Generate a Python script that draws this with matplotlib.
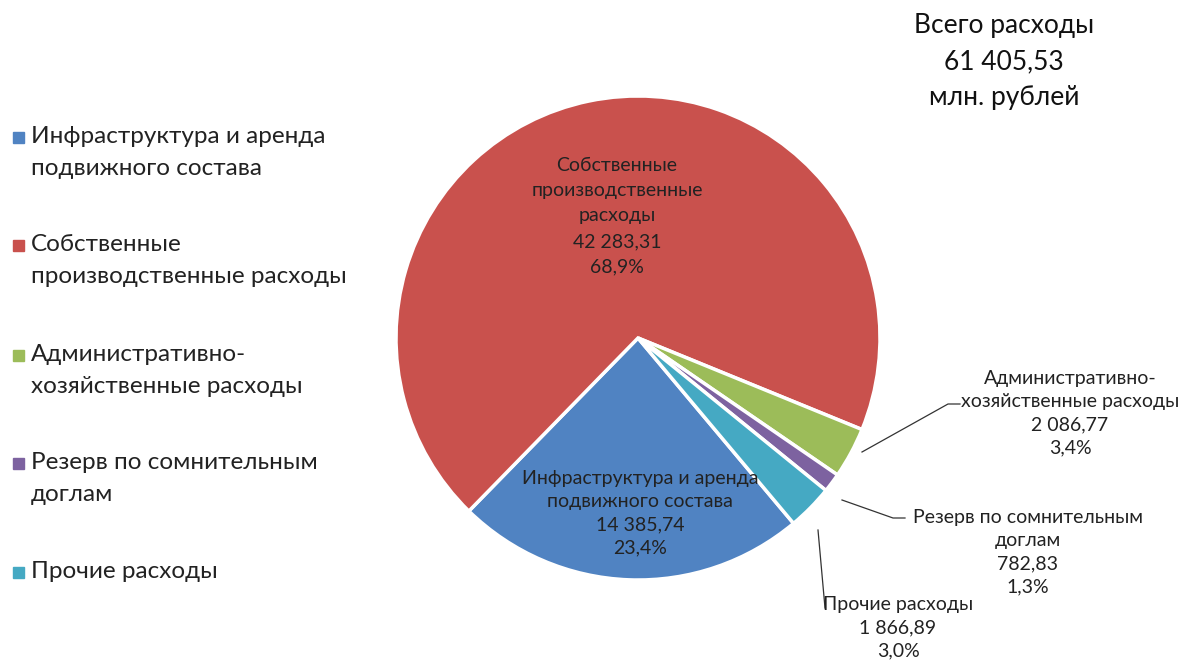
import matplotlib.pyplot as plt
from matplotlib.patches import Rectangle

plt.rcParams['font.family'] = ['Lato', 'Open Sans', 'DejaVu Sans']

# data
categories = ['Инфраструктура и аренда\nподвижного состава',
              'Собственные\nпроизводственные расходы',
              'Административно-\nхозяйственные расходы',
              'Резерв по сомнительным\nдоглам',
              'Прочие расходы']
slice_names = ['Инфраструктура и аренда\nподвижного состава',
               'Собственные\nпроизводственные\nрасходы',
               'Административно-\nхозяйственные расходы',
               'Резерв по сомнительным\nдоглам',
               'Прочие расходы']
values = [14385.74, 42283.31, 2086.77, 782.83, 1866.89]
value_text = ['14 385,74', '42 283,31', '2 086,77', '782,83', '1 866,89']
pct_text = ['23,4%', '68,9%', '3,4%', '1,3%', '3,0%']
colors = ['#5083C2', '#C9514D', '#9CBC59', '#7D62A0', '#45A9C3']
total_text = 'Всего расходы\n61 405,53\nмлн. рублей'

W, H = 1184, 661
fig = plt.figure(figsize=(W / 100, H / 100), dpi=100)
ax = fig.add_axes([0, 0, 1, 1])
ax.set_xlim(0, W)
ax.set_ylim(0, H)
ax.set_aspect('equal')
ax.axis('off')

# pie drawn in pixel-like data units
cx, cy, r = 638, H - 338, 242
wedges, _ = ax.pie(values, colors=colors, startangle=-50, counterclock=False,
                   center=(cx, cy), radius=r,
                   wedgeprops=dict(edgecolor='white', linewidth=2.5))
ax.set_xlim(0, W)
ax.set_ylim(0, H)

# labels inside
lab_pos = [(640, H - 513), (617, H - 216)]
for i in range(2):
    ax.text(lab_pos[i][0], lab_pos[i][1],
            slice_names[i] + '\n' + value_text[i] + '\n' + pct_text[i],
            ha='center', va='center', fontsize=14, color='#222222',
            linespacing=1.45 if i == 0 else 1.6)

# outside labels with leader lines
out_pos = [(1070, H - 413), (1028, H - 552), (898, H - 628)]
lines = [[(862, 452), (948, 404), (960, 404)],
         [(842, 500), (893, 518), (905, 518)],
         [(818, 530), (825, 608)]]
for k, i in enumerate([2, 3, 4]):
    ax.text(out_pos[k][0], out_pos[k][1],
            slice_names[i] + '\n' + value_text[i] + '\n' + pct_text[i],
            ha='center', va='center', fontsize=14, color='#222222', linespacing=1.45)
    xs = [p[0] for p in lines[k]]
    ys = [H - p[1] for p in lines[k]]
    ax.plot(xs, ys, color='#333333', lw=0.9)

# legend
leg_y = [152.5, 260.5, 370.5, 478.5, 572]
for i, name in enumerate(categories):
    y = H - leg_y[i]
    first_line_y = y + (15.5 if '\n' in name else 0)
    ax.add_patch(Rectangle((13, first_line_y - 6), 11, 11, color=colors[i]))
    ax.text(31, y, name, ha='left', va='center', fontsize=17.5,
            color='#222222', linespacing=1.62)

ax.text(1004, H - 62, total_text, ha='center', va='center', fontsize=19,
        color='#111111', linespacing=1.55)

fig.savefig('out.png', dpi=100)
